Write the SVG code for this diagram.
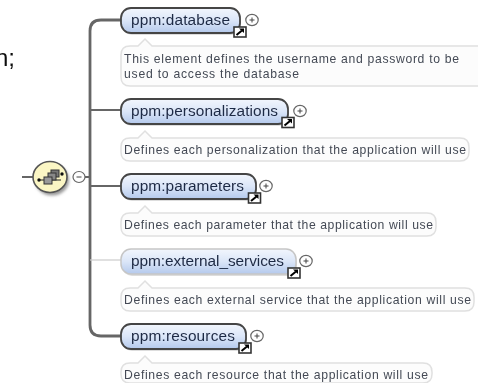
<svg xmlns="http://www.w3.org/2000/svg" width="478" height="383" viewBox="0 0 478 383">
<defs>
<linearGradient id="nodeFill" x1="0" y1="0" x2="0" y2="1"><stop offset="0" stop-color="#f2f6fd"/><stop offset="0.5" stop-color="#dbe6f8"/><stop offset="1" stop-color="#b4c9ec"/></linearGradient>
<filter id="blur" x="-5%" y="-20%" width="110%" height="140%"><feGaussianBlur stdDeviation="0.5"/></filter>
<filter id="shadow" x="-30%" y="-30%" width="170%" height="170%"><feGaussianBlur stdDeviation="1.5"/></filter>
<g id="expand"><ellipse rx="6.2" ry="5.6" fill="#fff" stroke="#666" stroke-width="1.2"/><path d="M-2.5 0H2.500M0 -2.500V2.500" stroke="#444" stroke-width="1"/></g>
<g id="ref"><rect x="-6" y="-5" width="12" height="10" fill="#fff" stroke="#333" stroke-width="1.600"/><path d="M-3.500 3L2 -1.500" stroke="#000" stroke-width="2"/><path d="M-1 -3.500H4V1Z" fill="#000"/></g>
</defs>
<style>
text{font-family:"Liberation Sans",Arial,sans-serif;}
.name{font-size:15.4px;fill:#1f2a44;}
.doc{font-size:12.2px;fill:#444a55;}
.box{fill:url(#nodeFill);stroke:#444;stroke-width:1.8;}
.opt{stroke:#c6c6c6;stroke-width:1.5;}
.note{fill:#fcfcfc;stroke:#e0e0e0;stroke-width:1.5;}
.sh{fill:#bbb;opacity:.5;}
.wire{fill:none;stroke:#666;stroke-width:2;}
</style>
<g filter="url(#blur)">
<text x="-5" y="66" font-size="24" fill="#111">n;</text>
<g id="connectors">
<path class="wire" d="M22 177H33"/><path class="wire" d="M85 177H90"/>
<path class="wire" d="M121 20H101Q90 20 90 31V325Q90 336 101 336H121" style="stroke-width:2.800"/>
<path class="wire" d="M90 110H121M90 186H121"/>
<path d="M90 260H121" fill="none" stroke="#ccc" stroke-width="1.2"/>
</g>
<g id="sequence">
<ellipse cx="52" cy="180" rx="17" ry="15.500" fill="#999" filter="url(#shadow)"/>
<ellipse cx="50" cy="177" rx="17" ry="15.500" fill="#fbf6c4" stroke="#555" stroke-width="1.600"/>
<path d="M39 180H61" stroke="#222" stroke-width="1"/><circle cx="39" cy="180" r="1.700" fill="#111"/><circle cx="62" cy="174" r="1.700" fill="#111"/>
<rect x="51" y="170" width="8" height="7" fill="#777" stroke="#333"/><rect x="48" y="173" width="8" height="7" fill="#888" stroke="#333"/><rect x="44" y="177" width="8" height="7" fill="#999" stroke="#333"/>
<ellipse cx="79" cy="177" rx="6" ry="5.500" fill="#fff" stroke="#666" stroke-width="1.200"/><path d="M76.500 177H81.500" stroke="#444"/>
</g>
<g id="database">
<rect x="122" y="11" width="119" height="24" rx="10" class="sh"/>
<rect x="121" y="8" width="119" height="25" rx="10" class="box"/>
<text x="131" y="25" class="name" textLength="99">ppm:database</text>
<use href="#ref" x="240" y="32"/><use href="#expand" x="252" y="20"/>
<path class="note" d="M478 46H152L145 39L138 46H130Q121 46 121 55V77Q121 86 130 86H478"/>
<text x="124" y="63" class="doc" textLength="335">This element defines the username and password to be</text>
<text x="124" y="78" class="doc" textLength="175">used to access the database</text>
</g>
<g id="personalizations">
<rect x="122" y="102" width="167" height="24" rx="10" class="sh"/>
<rect x="121" y="99" width="167" height="25" rx="10" class="box"/>
<text x="131" y="116" class="name" textLength="147">ppm:personalizations</text>
<use href="#ref" x="288" y="122.500"/><use href="#expand" x="300" y="111"/>
<path class="note" d="M152 138L145 131L138 138H130Q121 138 121 147V152Q121 161 130 161H460Q469 161 469 152V147Q469 138 460 138Z"/>
<text x="124" y="154" class="doc" textLength="342">Defines each personalization that the application will use</text>
</g>
<g id="parameters">
<rect x="122" y="177" width="135" height="24" rx="10" class="sh"/>
<rect x="121" y="174" width="135" height="25" rx="10" class="box"/>
<text x="131" y="191" class="name" textLength="113">ppm:parameters</text>
<use href="#ref" x="254.500" y="198"/><use href="#expand" x="266" y="186"/>
<path class="note" d="M152 213L145 206L138 213H130Q121 213 121 222V227Q121 236 130 236H427Q436 236 436 227V222Q436 213 427 213Z"/>
<text x="124" y="229" class="doc" textLength="309">Defines each parameter that the application will use</text>
</g>
<g id="external_services">
<rect x="122" y="252" width="175" height="24" rx="10" class="sh"/>
<rect x="121" y="249" width="175" height="25" rx="10" fill="url(#nodeFill)" class="opt"/>
<text x="131" y="266" class="name" textLength="153">ppm:external_services</text>
<use href="#ref" x="294" y="273"/><use href="#expand" x="306" y="261"/>
<path class="note" d="M152 288L145 281L138 288H130Q121 288 121 297V302Q121 311 130 311H465Q474 311 474 302V297Q474 288 465 288Z"/>
<text x="124" y="304" class="doc" textLength="347">Defines each external service that the application will use</text>
</g>
<g id="resources">
<rect x="122" y="327" width="125" height="24" rx="10" class="sh"/>
<rect x="121" y="324" width="125" height="25" rx="10" class="box"/>
<text x="131" y="341" class="name" textLength="104">ppm:resources</text>
<use href="#ref" x="245" y="348"/><use href="#expand" x="257" y="336"/>
<path class="note" d="M152 363L145 356L138 363H130Q121 363 121 372V374Q121 383 130 383H423Q432 383 432 374V372Q432 363 423 363Z"/>
<text x="124" y="379" class="doc" textLength="304">Defines each resource that the application will use</text>
</g>
</g>
</svg>
